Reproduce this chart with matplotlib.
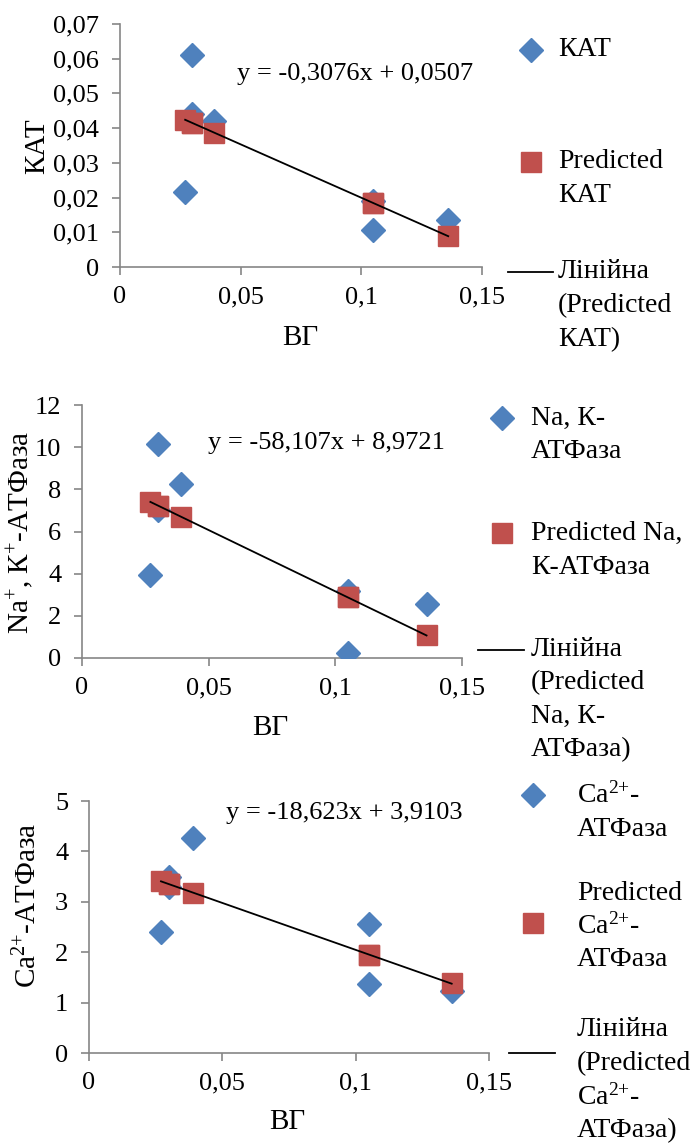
import matplotlib
matplotlib.use("Agg")
import matplotlib.pyplot as plt
import numpy as np
from matplotlib.lines import Line2D

plt.rcParams["font.family"] = ["Liberation Serif", "DejaVu Serif"]
plt.rcParams["mathtext.fontset"] = "custom"
plt.rcParams["mathtext.rm"] = "Liberation Serif"
plt.rcParams["mathtext.it"] = "Liberation Serif:italic"

BLUE = "#4F81BD"
RED = "#C0504D"
AXIS_GREY = "#868686"
W, H = 700, 1145

# shared x (ВГ) for every panel
vg = [0.027, 0.030, 0.030, 0.039, 0.105, 0.105, 0.136]

# panel 1: КАТ
kat = [0.0215, 0.061, 0.044, 0.042, 0.0107, 0.019, 0.0134]
kat_pred = [0.0424, 0.0415, 0.0415, 0.0387, 0.0184, 0.0184, 0.0089]

# panel 2: Na, K-АТФаза
nak = [3.93, 10.17, 7.0, 8.24, 0.22, 3.2, 2.56]
nak_pred = [7.40, 7.23, 7.23, 6.71, 2.87, 2.87, 1.07]

# panel 3: Ca2+-АТФаза
ca = [2.41, 3.50, 3.30, 4.27, 2.55, 1.36, 1.23]
ca_pred = [3.41, 3.35, 3.35, 3.18, 1.95, 1.95, 1.38]

x_ticks = [0, 0.05, 0.1, 0.15]
x_ticklabels = ["0", "0,05", "0,1", "0,15"]

CA = r"Ca$^{\text{2+}}$"


def fx(px):
    return px / W


def fy(py):
    return 1 - py / H


def comma(v):
    s = f"{v:g}"
    return s.replace(".", ",")


def draw_panel(fig, box, y, y_pred, yticks, ylabel, ylabel_xy, xlabel_xy, equation, eq_xy, legend):
    left, top, right, bottom = box
    ax = fig.add_axes([fx(left), fy(bottom), fx(right - left), (bottom - top) / H])
    ax.plot(vg, y, linestyle="none", marker="D", ms=12, color=BLUE, zorder=3)
    ax.plot(vg, y_pred, linestyle="none", marker="s", ms=14, color=RED, zorder=4)
    # linear trendline over the predicted series
    k, b = np.polyfit(vg, y_pred, 1)
    xs = np.array([min(vg), max(vg)])
    ax.plot(xs, k * xs + b, color="black", lw=1.3, zorder=5)

    ax.set_xlim(0, 0.15)
    ax.set_ylim(yticks[0], yticks[-1])
    ax.set_xticks(x_ticks)
    ax.set_xticklabels(x_ticklabels)
    ax.set_yticks(yticks)
    ax.set_yticklabels([comma(t) for t in yticks])
    for side in ("top", "right"):
        ax.spines[side].set_visible(False)
    for side in ("left", "bottom"):
        ax.spines[side].set_color(AXIS_GREY)
        ax.spines[side].set_linewidth(1.2)
    ax.tick_params(axis="both", direction="out", length=6, width=1.2, color=AXIS_GREY,
                   labelsize=19, labelcolor="black", pad=9)
    ax.tick_params(axis="x", pad=8)
    ax.patch.set_alpha(0)

    fig.text(fx(ylabel_xy[0]), fy(ylabel_xy[1]), ylabel, rotation=90, ha="center", va="center", fontsize=21)
    fig.text(fx(xlabel_xy[0]), fy(xlabel_xy[1]), "ВГ", ha="center", va="center", fontsize=21)
    fig.text(fx(eq_xy[0]), fy(eq_xy[1]), equation, ha="left", va="center", fontsize=19)

    # legend drawn by hand (Excel layout: items spread down the right side)
    (dx, dy), (sx, sy), (lx0, lx1, ly), text_x, entries = legend
    fig.add_artist(Line2D([fx(dx)], [fy(dy)], marker="D", ms=12, color=BLUE, transform=fig.transFigure))
    fig.add_artist(Line2D([fx(sx)], [fy(sy)], marker="s", ms=14, color=RED, transform=fig.transFigure))
    fig.add_artist(Line2D([fx(lx0), fx(lx1)], [fy(ly), fy(ly)], color="black", lw=1.3, transform=fig.transFigure))
    for txt, ty in entries:
        fig.text(fx(text_x), fy(ty), txt, ha="left", va="center", fontsize=20)


fig = plt.figure(figsize=(7, 11.45), dpi=100)

draw_panel(
    fig, (120, 24, 482, 267), kat, kat_pred,
    [0, 0.01, 0.02, 0.03, 0.04, 0.05, 0.06, 0.07], "КАТ", (37, 146), (300, 338),
    "y = -0,3076x + 0,0507", (237, 74),
    ((531, 50), (531, 162), (508, 553, 272), 558,
     [("КАТ", 50), ("Predicted", 162), ("КАТ", 195),
      ("Лінійна", 272), ("(Predicted", 306), ("КАТ)", 340)]),
)

draw_panel(
    fig, (82, 405, 462, 658), nak, nak_pred,
    [0, 2, 4, 6, 8, 10, 12], r"Na$^{\text{+}}$, К$^{\text{+}}$-АТФаза", (20, 532), (270, 728),
    "y = -58,107x + 8,9721", (208, 443),
    ((502, 418), (502, 533), (478, 524, 650), 531,
     [("Na, К-", 418), ("АТФаза", 451), ("Predicted Na,", 533), ("К-АТФаза", 567),
      ("Лінійна", 650), ("(Predicted", 683), ("Na, К-", 716), ("АТФаза)", 750)]),
)

draw_panel(
    fig, (89, 801, 489, 1053), ca, ca_pred,
    [0, 1, 2, 3, 4, 5], CA + "-АТФаза", (28, 905), (287, 1122),
    "y = -18,623x + 3,9103", (226, 813),
    ((533, 795), (533, 923), (509, 555, 1053), 577,
     [(CA + "-", 795), ("АТФаза", 829), ("Predicted", 893), (CA + "-", 926),
      ("АТФаза", 960), ("Лінійна", 1030), ("(Predicted", 1064), (CA + "-", 1097),
      ("АТФаза)", 1131)]),
)

fig.savefig("out.png", dpi=100, facecolor="white")
